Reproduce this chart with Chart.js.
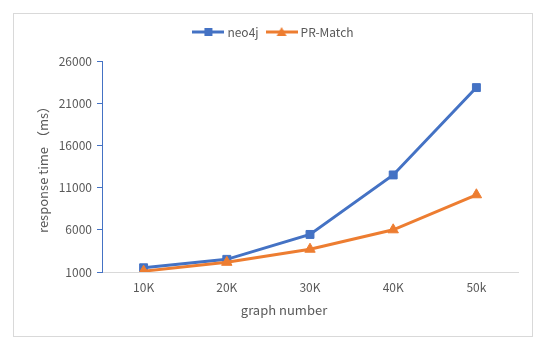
<!DOCTYPE html>
<html>
<head>
<meta charset="utf-8">
<script src="https://cdn.jsdelivr.net/npm/chart.js@4/dist/chart.umd.min.js"></script>
<style>
    html, body { margin: 0; padding: 0; background: #fff; }
    #wrap { position: relative; width: 550px; height: 354px; }
    #frame { position: absolute; left: 13px; top: 13px; width: 520px; height: 324px; box-sizing: border-box; border: 1px solid #d9d9d9; pointer-events: none; }
</style>
</head>
<body>
<div id="wrap">
    <canvas id="chart" width="550" height="354"></canvas>
    <div id="frame"></div>
</div>
<script>
// Datos
const categories = ['10K', '20K', '30K', '40K', '50k'];
const neo4jValues = [1500, 2500, 5450, 12500, 22850];
const prMatchValues = [1100, 2150, 3700, 6000, 10150];
const yTicks = [1000, 6000, 11000, 16000, 21000, 26000];

const BLUE = '#4472C4'; const ORANGE = '#ED7D31'; const GRAY_TEXT = '#595959';
const FONT = '"Noto Sans CJK SC", "Noto Sans", sans-serif';

// Icono de leyenda: línea con el marcador en el centro (como en Excel)
function legendIcon(color, shape) {
    const c = document.createElement('canvas');
    c.width = 32; c.height = 12;
    const g = c.getContext('2d');
    g.strokeStyle = color; g.fillStyle = color; g.lineWidth = 3;
    g.beginPath(); g.moveTo(0, 6); g.lineTo(32, 6); g.stroke();
    g.beginPath();
    if (shape === 'rect') g.rect(12, 2, 8, 8);
    else { g.moveTo(16, 1); g.lineTo(21, 10); g.lineTo(11, 10); g.closePath(); }
    g.fill();
    return c;
}
const icons = [legendIcon(BLUE, 'rect'), legendIcon(ORANGE, 'triangle')];

// Espacio extra bajo la leyenda
const legendSpacer = {
    id: 'legendSpacer',
    beforeInit(chart) {
        const fit = chart.legend.fit;
        chart.legend.fit = function () { fit.bind(chart.legend)(); this.height += 13; };
    }
};

new Chart(document.getElementById('chart'), {
    type: 'line',
    data: {
        labels: categories,
        datasets: [
            { label: 'neo4j', data: neo4jValues, borderColor: BLUE, backgroundColor: BLUE, borderWidth: 3,
              pointStyle: 'rect', pointRadius: 5.6, pointBorderWidth: 1, order: 1 },
            { label: 'PR-Match', data: prMatchValues, borderColor: ORANGE, backgroundColor: ORANGE, borderWidth: 3,
              pointStyle: 'triangle', pointRadius: 6, pointBorderWidth: 1, order: 0 }
        ]
    },
    options: {
        responsive: false, animation: false,
        layout: { padding: { left: 31, right: 32, top: 16, bottom: 30 } },
        plugins: {
            tooltip: { enabled: false },
            legend: {
                position: 'top',
                labels: {
                    usePointStyle: true, pointStyleWidth: 26, padding: 10,
                    color: GRAY_TEXT, font: { family: FONT, size: 12 },
                    sort: (a, b) => a.datasetIndex - b.datasetIndex,
                    generateLabels(chart) {
                        return Chart.defaults.plugins.legend.labels.generateLabels(chart)
                            .map(item => Object.assign(item, { pointStyle: icons[item.datasetIndex], fontColor: GRAY_TEXT }));
                    }
                }
            }
        },
        scales: {
            x: {
                offset: true,
                grid: { display: false, drawTicks: false },
                border: { color: '#d9d9d9' },
                ticks: { color: GRAY_TEXT, font: { family: FONT, size: 12 }, padding: 8 },
                title: { display: true, text: 'graph number\u3000\u3000\u3000\u3000', color: GRAY_TEXT,
                         font: { family: FONT, size: 13 }, padding: { top: 4, bottom: 6 } },
                afterFit(scale) { scale.height = 52; }
            },
            y: {
                min: yTicks[0], max: yTicks[yTicks.length - 1],
                afterBuildTicks(scale) { scale.ticks = yTicks.map(v => ({ value: v })); },
                grid: { display: true, drawOnChartArea: false, drawTicks: true, tickLength: 5, color: BLUE },
                border: { color: BLUE },
                ticks: { color: GRAY_TEXT, font: { family: FONT, size: 12 }, padding: 5, callback: v => String(v) },
                title: { display: true, text: 'response time （ms）', color: GRAY_TEXT,
                         font: { family: FONT, size: 13 }, padding: { top: 4, bottom: 4 } },
                afterFit(scale) { scale.width = 71; }
            }
        }
    },
    plugins: [legendSpacer]
});
</script>
</body>
</html>
